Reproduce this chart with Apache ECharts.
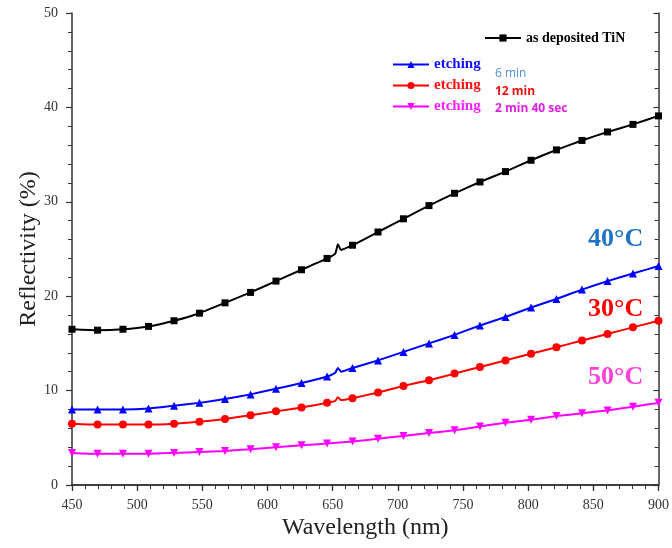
<!DOCTYPE html>
<html>
<head>
<meta charset="utf-8">
<script src="https://cdn.jsdelivr.net/npm/echarts@6/dist/echarts.min.js"></script>
<style>
  html, body { margin: 0; padding: 0; background: #fff; }
  #chart { width: 672px; height: 548px; }
</style>
</head>
<body>
<div id="chart"></div>
<script>
// Wavelengths (nm) at which the marked samples were taken
const wavelengths = [450, 469.6, 489.1, 508.7, 528.3, 547.8, 567.4, 587.0, 606.5, 626.1, 645.7, 665.2,
  684.8, 704.3, 723.9, 743.5, 763.0, 782.6, 802.2, 821.7, 841.3, 860.9, 880.4, 900];

// Reflectivity (%) of each sample
const asDeposited = [16.5, 16.4, 16.5, 16.8, 17.4, 18.2, 19.3, 20.4, 21.6, 22.8, 24.0, 25.4,
  26.8, 28.2, 29.6, 30.9, 32.1, 33.2, 34.4, 35.5, 36.5, 37.4, 38.2, 39.1];
const etch6min = [8.0, 8.0, 8.0, 8.1, 8.4, 8.7, 9.1, 9.6, 10.2, 10.8, 11.5, 12.4,
  13.2, 14.1, 15.0, 15.9, 16.9, 17.8, 18.8, 19.7, 20.7, 21.6, 22.4, 23.2];
const etch12min = [6.5, 6.4, 6.4, 6.4, 6.5, 6.7, 7.0, 7.4, 7.8, 8.2, 8.7, 9.2,
  9.8, 10.5, 11.1, 11.8, 12.5, 13.2, 13.9, 14.6, 15.3, 16.0, 16.7, 17.4];
const etch2min40 = [3.4, 3.3, 3.3, 3.3, 3.4, 3.5, 3.6, 3.8, 4.0, 4.2, 4.4, 4.6,
  4.9, 5.2, 5.5, 5.8, 6.2, 6.6, 6.9, 7.3, 7.6, 7.9, 8.3, 8.7];

// Detector-change glitch around 655 nm (unmarked samples)
const glitchWavelengths = [652.0, 654.0, 656.5];
const asDepositedGlitch = [24.5, 25.5, 24.9];
const etch6minGlitch = [11.9, 12.4, 12.0];
const etch12minGlitch = [8.9, 9.3, 9.0];

const xTicks = [450, 500, 550, 600, 650, 700, 750, 800, 850, 900];
const yTicks = [0, 10, 20, 30, 40, 50];

function buildData(values, glitchValues) {
  const pts = wavelengths.map((w, i) => ({ value: [w, values[i]] }));
  if (glitchValues) {
    glitchWavelengths.forEach((w, i) => {
      pts.push({ value: [w, glitchValues[i]], symbol: 'none' });
    });
  }
  return pts.sort((a, b) => a.value[0] - b.value[0]);
}

const serif = 'Liberation Serif, Times New Roman, serif';
const axisColor = '#333';

function lineSeries(name, color, symbol, size, values, glitch, symbolRotate) {
  return {
    name: name,
    type: 'line',
    data: buildData(values, glitch),
    smooth: 0.15,
    symbol: symbol,
    symbolSize: size,
    symbolRotate: symbolRotate || 0,
    lineStyle: { color: color, width: 2 },
    itemStyle: { color: color },
    z: 3
  };
}

const chart = echarts.init(document.getElementById('chart'), null, { renderer: 'canvas' });

chart.setOption({
  animation: false,
  backgroundColor: '#fff',
  grid: { left: 72, right: 13, top: 13, bottom: 63 },
  xAxis: [{
    type: 'value', min: xTicks[0], max: xTicks[xTicks.length - 1], interval: 50,
    name: 'Wavelength (nm)', nameLocation: 'middle', nameGap: 31, nameMoveOverlap: false,
    nameTextStyle: { fontFamily: serif, fontSize: 24, color: '#222' },
    axisLine: { lineStyle: { color: axisColor, width: 1.5 } },
    axisTick: { inside: false, length: 6, lineStyle: { color: axisColor, width: 1.2 } },
    minorTick: { show: true, splitNumber: 5, length: 4, lineStyle: { color: axisColor, width: 1 } },
    axisLabel: { fontFamily: serif, fontSize: 14, color: '#333', margin: 13 },
    splitLine: { show: false }
  }, {
    type: 'value', position: 'top', min: xTicks[0], max: xTicks[xTicks.length - 1], interval: 50,
    axisLine: { show: true, lineStyle: { color: axisColor, width: 1.5 } },
    axisTick: { inside: true, length: 5, lineStyle: { color: axisColor, width: 1.2 } },
    minorTick: { show: true, splitNumber: 5, length: 4, lineStyle: { color: axisColor, width: 1 } },
    axisLabel: { show: false },
    splitLine: { show: false }
  }],
  yAxis: [{
    type: 'value', min: yTicks[0], max: yTicks[yTicks.length - 1], interval: 10,
    name: 'Reflectivity (%)', nameLocation: 'middle', nameGap: 31, nameMoveOverlap: false,
    nameTextStyle: { fontFamily: serif, fontSize: 24, color: '#222' },
    axisLine: { show: true, lineStyle: { color: axisColor, width: 1.5 } },
    axisTick: { show: true, inside: false, length: 6, lineStyle: { color: axisColor, width: 1.2 } },
    minorTick: { show: true, splitNumber: 5, length: 4, lineStyle: { color: axisColor, width: 1 } },
    axisLabel: { fontFamily: serif, fontSize: 14, color: '#333', margin: 14 },
    splitLine: { show: false }
  }, {
    type: 'value', position: 'right', min: yTicks[0], max: yTicks[yTicks.length - 1], interval: 10,
    axisLine: { show: true, lineStyle: { color: axisColor, width: 1.5 } },
    axisTick: { show: true, inside: true, length: 5, lineStyle: { color: axisColor, width: 1.2 } },
    minorTick: { show: true, splitNumber: 5, length: 4, lineStyle: { color: axisColor, width: 1 } },
    axisLabel: { show: false },
    splitLine: { show: false }
  }],
  legend: [{
    data: [{ name: 'as deposited TiN' }],
    left: 484, top: 31, padding: 0,
    itemWidth: 36, itemHeight: 9, itemGap: 4,
    textStyle: { fontFamily: serif, fontSize: 14, fontWeight: 'bold', color: '#000' }
  }, {
    orient: 'vertical',
    data: [
      { name: 'etching 6 min', textStyle: { color: '#1010ff' } },
      { name: 'etching 12 min', textStyle: { color: '#ff1010' } },
      { name: 'etching 2 min 40 sec', textStyle: { color: '#ff20ff' } }
    ],
    formatter: () => 'etching',
    left: 392, top: 57, padding: 0,
    itemWidth: 36, itemHeight: 9, itemGap: 6,
    textStyle: { fontFamily: serif, fontSize: 15, fontWeight: 'bold' }
  }],
  graphic: [
    { type: 'text', left: 495, top: 68, style: { text: '6 min', fill: '#4f8fd8', font: '12px "Open Sans", sans-serif' } },
    { type: 'text', left: 495, top: 86, style: { text: '12 min', fill: '#e81010', font: 'bold 12px "Open Sans", sans-serif' } },
    { type: 'text', left: 495, top: 103, style: { text: '2 min 40 sec', fill: '#e020e0', font: 'bold 12px "Open Sans", sans-serif' } },
    { type: 'text', left: 588, top: 226, style: { text: '40°C', fill: '#1f72c4', font: 'bold 26px "Liberation Serif", serif' } },
    { type: 'text', left: 588, top: 296, style: { text: '30°C', fill: '#ff0000', font: 'bold 26px "Liberation Serif", serif' } },
    { type: 'text', left: 588, top: 364, style: { text: '50°C', fill: '#ff40d8', font: 'bold 26px "Liberation Serif", serif' } }
  ],
  series: [
    lineSeries('as deposited TiN', '#000000', 'rect', 7, asDeposited, asDepositedGlitch),
    lineSeries('etching 6 min', '#0000ff', 'triangle', 8, etch6min, etch6minGlitch),
    lineSeries('etching 12 min', '#ff0000', 'circle', 8, etch12min, etch12minGlitch),
    lineSeries('etching 2 min 40 sec', '#ff00ff', 'triangle', 8, etch2min40, null, 180)
  ]
});
</script>
</body>
</html>
